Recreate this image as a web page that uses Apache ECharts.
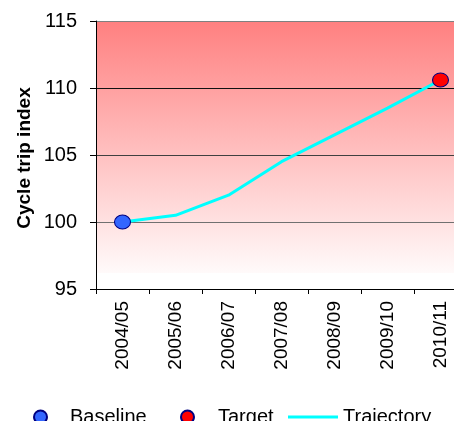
<!DOCTYPE html>
<html>
<head>
<meta charset="utf-8">
<script src="https://cdn.jsdelivr.net/npm/echarts@6/dist/echarts.min.js"></script>
<style>
  html, body { margin: 0; padding: 0; background: #fff; overflow: hidden; }
  /* canvas runs past the right edge so the last category column is cut off */
  #chart { width: 480px; height: 421px; }
</style>
</head>
<body>
<div id="chart"></div>
<script>
// Cycle trip index: baseline year, target year and the trajectory between them
const years = ['2004/05', '2005/06', '2006/07', '2007/08', '2008/09', '2009/10', '2010/11'];
const trajectory = [100, 100.5, 102.0, 104.5, 106.5, 108.5, 110.6];
const baseline = [['2004/05', 100]];
const target = [['2010/11', 110.6]];
const yTicks = { min: 95, max: 115, step: 5 };
const yTitle = 'Cycle trip index';

const chart = echarts.init(document.getElementById('chart'), null, { renderer: 'canvas' });

const font = 'Arial, "Liberation Sans", sans-serif';
const legendText = { fontFamily: font, fontSize: 20, color: '#000' };

chart.setOption({
  animation: false,
  grid: {
    left: 96, top: 21, height: 268, width: 371,
    show: true,
    borderWidth: 0,
    backgroundColor: new echarts.graphic.LinearGradient(0, 0, 0, 1, [
      { offset: 0, color: '#FF8080' },
      { offset: 0.94, color: '#FFFAFA' },
      { offset: 0.941, color: '#FFFFFF' },
      { offset: 1, color: '#FFFFFF' }
    ])
  },
  // vertical y-axis title
  graphic: [{
    type: 'text',
    x: 25, y: 158,
    rotation: Math.PI / 2,
    style: {
      text: yTitle,
      fontFamily: font, fontSize: 19, fontWeight: 'bold', fill: '#000',
      align: 'center', verticalAlign: 'middle'
    }
  }],
  legend: [
    {
      left: 28, top: 402,
      itemWidth: 13, itemHeight: 13,
      textStyle: Object.assign({ padding: [0, 0, 0, 18] }, legendText),
      data: [{ name: 'Baseline', icon: 'circle' }]
    },
    {
      left: 175, top: 402,
      itemWidth: 13, itemHeight: 13,
      textStyle: Object.assign({ padding: [0, 0, 0, 19] }, legendText),
      data: [{ name: 'Target', icon: 'circle' }]
    },
    {
      left: 283, top: 402,
      itemWidth: 50, itemHeight: 3,
      textStyle: legendText,
      data: [{ name: 'Trajectory', icon: 'rect' }]
    }
  ],
  xAxis: {
    type: 'category',
    data: years,
    boundaryGap: true,
    axisLine: { lineStyle: { color: '#000', width: 1 } },
    axisTick: { show: true, length: 5, lineStyle: { color: '#000' } },
    axisLabel: { rotate: 90, margin: 12, fontFamily: font, fontSize: 19, color: '#000' },
    splitLine: { show: false }
  },
  yAxis: {
    type: 'value',
    min: yTicks.min, max: yTicks.max, interval: yTicks.step,
    axisLine: { show: true, lineStyle: { color: '#000', width: 1 } },
    axisTick: { show: true, length: 6, lineStyle: { color: '#000' } },
    axisLabel: { margin: 19, fontFamily: font, fontSize: 20, color: '#000' },
    splitLine: { show: true, lineStyle: { color: ['#000', '#707070', '#404040', '#111', '#808080'], width: 1 } }
  },
  series: [
    {
      name: 'Trajectory',
      type: 'line',
      data: trajectory,
      symbol: 'none',
      lineStyle: { color: '#00FFFF', width: 3 },
      itemStyle: { color: '#00FFFF' },
      z: 2
    },
    {
      name: 'Baseline',
      type: 'scatter',
      data: baseline,
      symbol: 'circle',
      symbolSize: [16, 14],
      itemStyle: { color: '#3366FF', borderColor: '#000080', borderWidth: 1, opacity: 1 },
      z: 3
    },
    {
      name: 'Target',
      type: 'scatter',
      data: target,
      symbol: 'circle',
      symbolSize: [16, 14],
      itemStyle: { color: '#FF0000', borderColor: '#000080', borderWidth: 1, opacity: 1 },
      z: 3
    }
  ]
});
</script>
</body>
</html>
